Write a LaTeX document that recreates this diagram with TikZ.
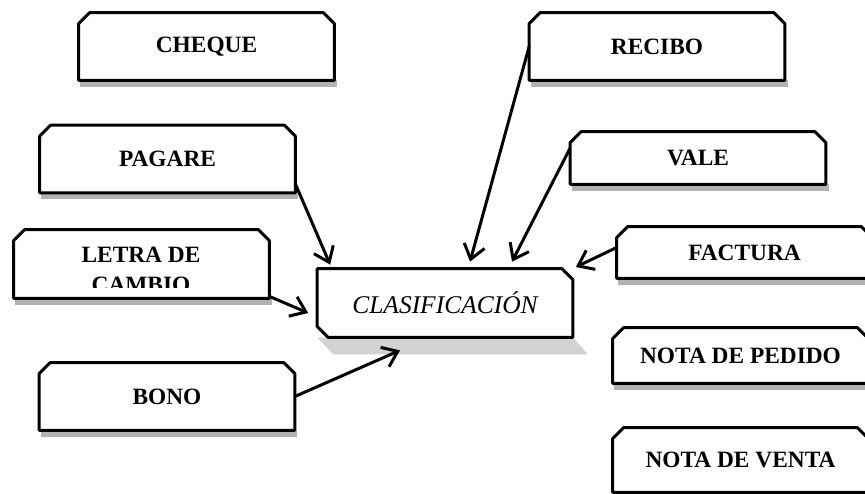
\documentclass[tikz,border=0pt]{standalone}
\usepackage{fontspec}
\setmainfont{Liberation Serif}
\usetikzlibrary{arrows.meta,backgrounds,calc}

\begin{document}
\begin{tikzpicture}[>={Straight Barb[length=8pt,width=12pt]},
  doc/.style={rectangle, inner sep=0pt, minimum width=5.1cm, minimum height=1.34cm, align=center,
    font=\fontsize{13.3}{17}\selectfont\bfseries},
  frame/.style={line width=1.7pt, line join=round},
  arr/.style={->, line width=1.7pt}]

\clip (0,0) rectangle (17.3,9.86);
\useasboundingbox (0,0) rectangle (17.3,9.86);

% Left column
\node[doc] (cheque) at (4.13, 8.93) {CHEQUE};
\node[doc] (pagare) at (3.35, 6.68) {PAGARE};
\node[doc, minimum height=1.36cm] (letra) at (2.83, 4.58) {};
\node[doc] (bono) at (3.34, 1.93) {BONO};

% Text of letra, cut at the bottom
\begin{scope}
\clip (letra.north west) rectangle ([yshift=0.22cm]letra.south east);
\node[doc, minimum width=0pt, minimum height=0pt, anchor=north] (letratxt) at (2.82, 4.93) {LETRA DE\\CAMBIO};
\end{scope}

% Right column
\node[doc] (recibo) at (13.14, 8.93) {RECIBO};
\node[doc, minimum height=1.04cm] (vale) at (13.96, 6.70) {VALE};
\node[doc, minimum height=1.02cm] (factura) at (14.89, 4.81) {FACTURA};
\node[doc, minimum height=1.10cm] (pedido) at (14.81, 2.75) {NOTA DE PEDIDO};
\node[doc, minimum height=1.28cm] (venta) at (14.81, 0.66) {NOTA DE VENTA};

% Frames with cut top corners and shadow
\foreach \n in {cheque,pagare,letra,bono,recibo,vale,factura,pedido,venta} {
  \fill[gray!60] ([xshift=1pt]\n.south west) rectangle ([xshift=1.5pt,yshift=-3.5pt]\n.south east);
  \draw[frame] (\n.south west) -- ([yshift=-0.22cm]\n.north west) -- ([xshift=0.22cm]\n.north west)
    -- ([xshift=-0.22cm]\n.north east) -- ([yshift=-0.22cm]\n.north east) -- (\n.south east) -- cycle;
}

% Centre
\node[doc, minimum height=1.36cm, font=\fontsize{14.5}{17}\selectfont\itshape] (clas) at (8.90, 3.80) {CLASIFICACIÓN};
\fill[gray!35] (clas.south west) -- ($(clas.south west)+(0.32,-0.34)$)
  -- ($(clas.south east)+(0.30,-0.34)$) -- (clas.south east) -- cycle;
\draw[frame] (clas.north west) -- ([xshift=-0.22cm]clas.north east) -- ([yshift=-0.22cm]clas.north east)
  -- (clas.south east) -- ([xshift=0.22cm]clas.south west) -- ([yshift=0.22cm]clas.south west) -- cycle;

% Connections
\draw[arr] ([yshift=0.18cm]pagare.south east) -- ([xshift=0.26cm,yshift=0.08cm]clas.north west);
\draw[arr] (recibo.west) -- ([xshift=0.5cm,yshift=0.14cm]clas.north);
\draw[arr] ([yshift=0.2cm]vale.west) -- ([xshift=1.34cm,yshift=0.14cm]clas.north);
\draw[arr] ([yshift=0.1cm]factura.west) -- ([xshift=0.06cm,yshift=0.72cm]clas.east);
\draw[arr] ([yshift=0.04cm]letra.south east) -- ([xshift=-0.18cm,yshift=-0.2cm]clas.west);
\draw[arr] (bono.east) -- ([xshift=-0.9cm,yshift=-0.26cm]clas.south);

\end{tikzpicture}
\end{document}
